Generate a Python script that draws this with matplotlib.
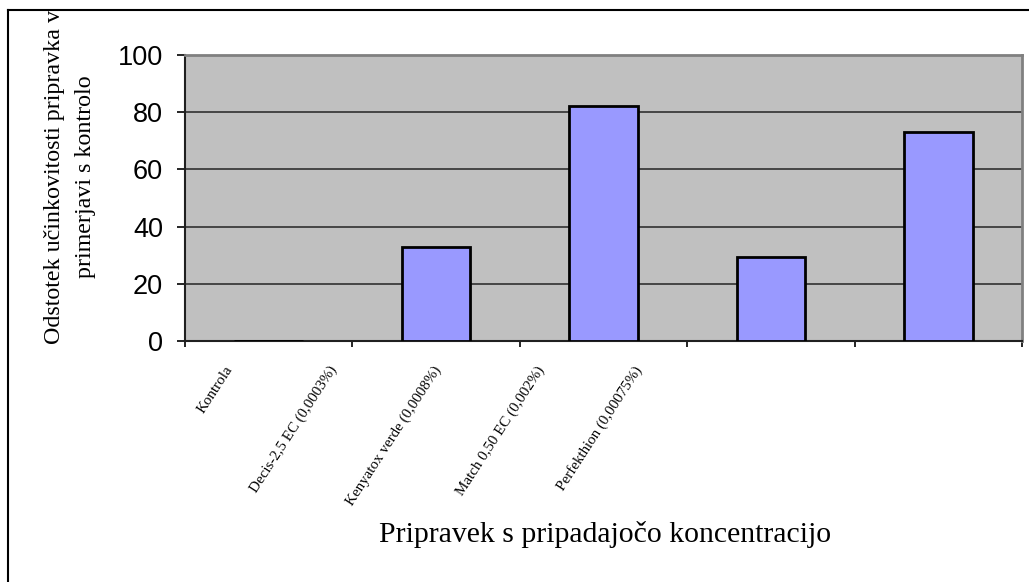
import matplotlib
matplotlib.use("Agg")
import matplotlib.pyplot as plt
from matplotlib.lines import Line2D
from matplotlib.patches import Rectangle
import numpy as np

categories = ["Kontrola", "Decis-2,5 EC (0,0003%)", "Kenyatox verde (0,0008%)",
              "Match 0,50 EC (0,002%)", "Perfekthion (0,00075%)"]
values = [0, 33, 82.3, 29.5, 73.1]
yticks = [0, 20, 40, 60, 80, 100]
ylabel = "Odstotek učinkovitosti pripravka v\nprimerjavi s kontrolo"
xlabel = "Pripravek s pripadajočo koncentracijo"

W, H = 1029, 582
PX = 72 / 100  # points per pixel
fig = plt.figure(figsize=(W / 100, H / 100), dpi=100)
ax = fig.add_axes([185 / W, 1 - 341 / H, (1022 - 185) / W, (341 - 55) / H])
ax.set_facecolor("#C0C0C0")

x = np.arange(len(categories))
ax.bar(x, values, width=0.41, color="#9999FF", edgecolor="black", linewidth=2, zorder=3)

ax.set_xlim(-0.5, len(categories) - 0.5)
ax.set_ylim(0, 100)
ax.set_yticks(yticks)
ax.set_yticklabels([str(v) for v in yticks], fontsize=19.5, family="Liberation Sans")
ax.yaxis.grid(True, color="#303030", linewidth=1.2, zorder=1)
ax.set_axisbelow(True)

# major ticks at category boundaries (no labels)
ax.set_xticks(np.arange(len(categories) + 1) - 0.5)
ax.set_xticklabels([])
ax.tick_params(axis="x", which="major", direction="out", length=6 * PX, width=1.2, color="black")
ax.tick_params(axis="y", direction="out", length=8 * PX, width=1.2, color="black", pad=14 * PX)

# labels as minor ticks, placed the way the original renderer did
label_pos = [-0.23, 0.39, 1.01, 1.63, 2.21]
ax.set_xticks(label_pos, minor=True)
ax.set_xticklabels(categories, minor=True, rotation=57, ha="right", va="center",
                   rotation_mode="anchor", fontsize=10.8, family="Liberation Serif")
ax.tick_params(axis="x", which="minor", length=0, pad=19)

for s in ["top", "right"]:
    ax.spines[s].set_color("#808080")
    ax.spines[s].set_linewidth(2)
for s in ["left", "bottom"]:
    ax.spines[s].set_color("#202020")
    ax.spines[s].set_linewidth(1.5)

fig.text(605 / W, 1 - 535 / H, xlabel, ha="center", va="center",
         fontsize=21.4, family="Liberation Serif")
fig.text(70 / W, 1 - 177 / H, ylabel, ha="center", va="center", rotation=90,
         multialignment="center", fontsize=17.3, family="Liberation Serif",
         linespacing=1.65)

# outer frame (left and top visible)
fig.add_artist(Rectangle((0, 1 - 9 / H), 1, 9 / H, transform=fig.transFigure,
                         facecolor="white", edgecolor="none", zorder=10))
fig.add_artist(Line2D([8 / W, 8 / W], [0, 1 - 9.5 / H], transform=fig.transFigure,
                      color="black", linewidth=1.5, zorder=11))
fig.add_artist(Line2D([8 / W, 1], [1 - 9.5 / H, 1 - 9.5 / H], transform=fig.transFigure,
                      color="black", linewidth=1.5, zorder=11))

fig.savefig("out.png", dpi=100)
